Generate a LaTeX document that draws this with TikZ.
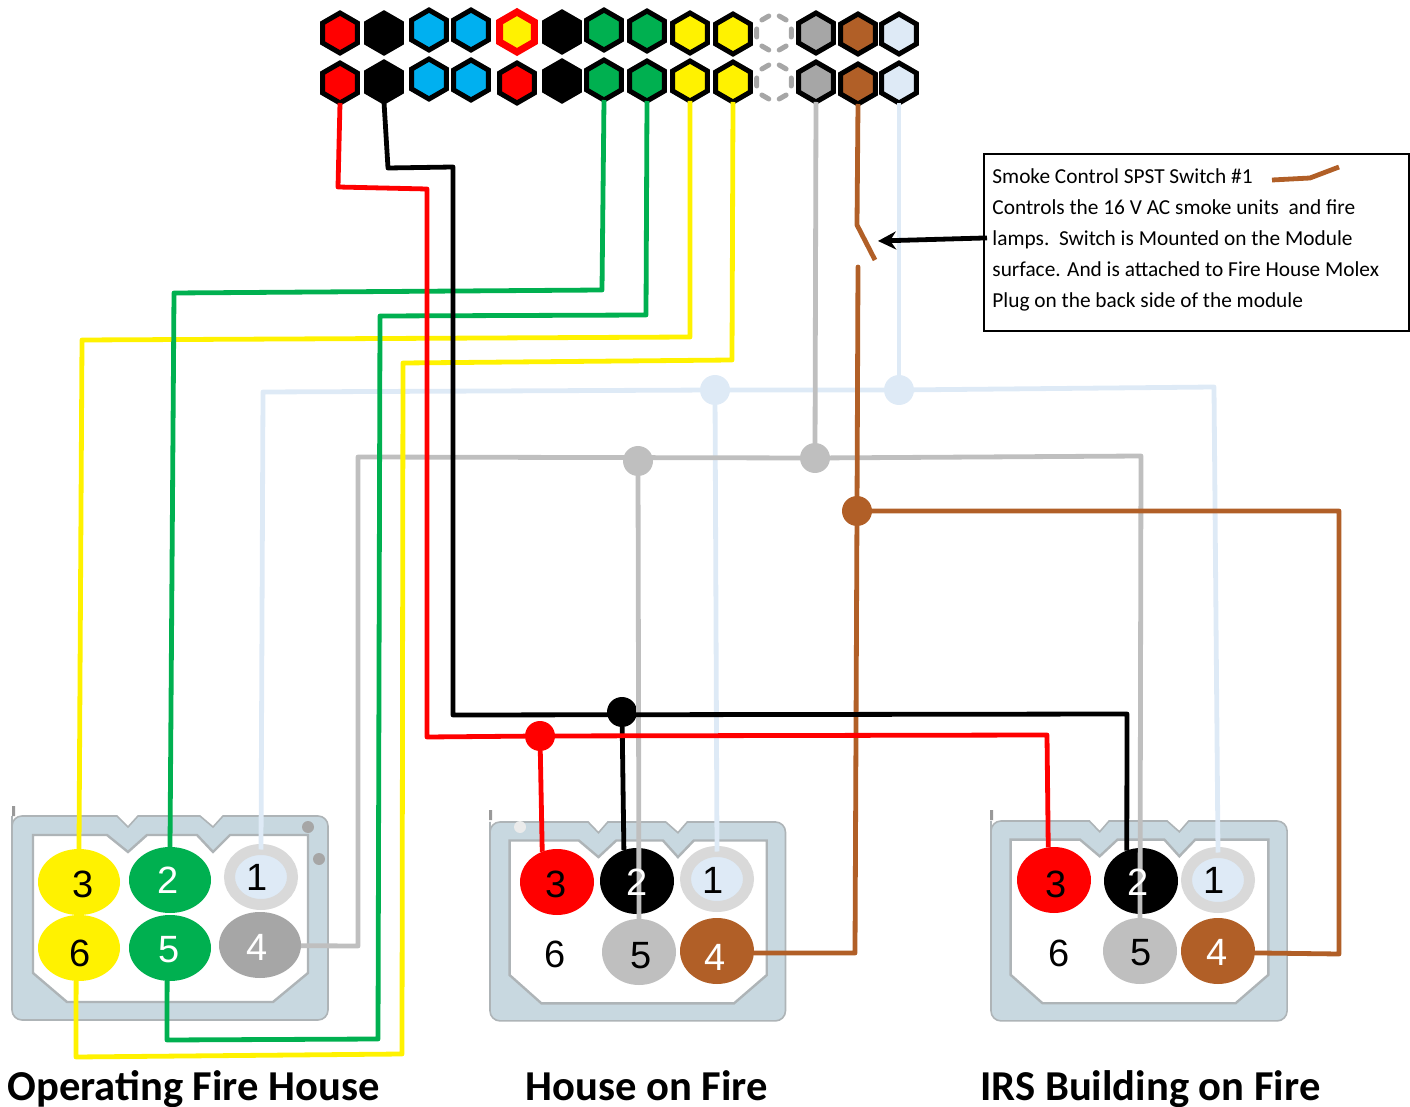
\documentclass[tikz,border=0pt]{standalone}
\usepackage{fontspec}
\setmainfont{Carlito}
\newfontfamily\pinfont{Liberation Sans}
\usetikzlibrary{arrows.meta, shapes.geometric}
\definecolor{wire-green}{HTML}{00B050}
\definecolor{wire-blue}{HTML}{00B0F0}
\definecolor{wire-brown}{HTML}{B15F27}
\definecolor{wire-gray}{HTML}{BFBFBF}
\definecolor{wire-pale}{HTML}{DEEAF6}
\definecolor{hex-gray}{HTML}{A6A6A6}
\definecolor{molex-fill}{HTML}{C8D8E0}
\definecolor{molex-edge}{HTML}{AEB4B7}
\tikzset{
    hex-box/.style={
        regular polygon,
        regular polygon sides=6,
        shape border rotate=30,
        draw=black,
        line width=2.5pt,
        minimum size=20pt,
        inner sep=0pt,
        outer sep=0pt,
    },
    hex-empty/.style={
        hex-box,
        draw=hex-gray,
        dash pattern=on 4pt off 6pt,
        dash phase=7pt,
        line cap=round,
    },
    pin/.style={
        ellipse,
        minimum width=37pt,
        minimum height=33pt,
        inner sep=0pt,
        outer sep=0pt,
    },
    pin-wide/.style={
        pin,
        minimum width=41pt,
    },
    pin-ring/.style={
        pin,
        draw=black!15,
        fill=wire-pale,
        line width=5.5pt,
        minimum width=31.5pt,
        minimum height=27.5pt,
    },
    pin-num/.style={
        font=\pinfont\fontsize{19}{19}\selectfont,
        inner sep=0pt,
    },
    junction/.style={
        circle,
        minimum size=15pt,
        inner sep=0pt,
        outer sep=0pt,
    },
    wire/.style={
        line width=2.4pt,
        line join=round,
    },
    title-text/.style={
        font=\bfseries\fontsize{21.3}{21.3}\selectfont,
        anchor=base west,
        inner sep=0pt,
    },
    molex/.pic={
        \draw[molex-edge, fill=molex-fill, line width=0.8pt]
            (0,10) [rounded corners=5pt] -- (0,0) -- (50,0) [sharp corners] -- (105,0) -- (116,11) -- (126,0) -- (188,0) -- (201,11) -- (211,0) -- (270,0) [rounded corners=5pt] -- (316,0) -- (316,204) -- (0,204) -- cycle;
        \draw[molex-edge, fill=white, line width=1.2pt]
            (21,19) -- (95,19) -- (116,36) -- (135,19) -- (185,19) -- (201,36) -- (218,19) -- (296,19) -- (296,157) -- (261,186) -- (55,186) -- (21,157) -- cycle;
    },
}
\begin{document}
\begin{tikzpicture}[x=0.5pt,y=-0.5pt]
\useasboundingbox (0,0) rectangle (1410,1107);

% top row of the plug
\node[hex-box, fill=red] (t1) at (340,33) {};
\node[hex-box, fill=black] (t2) at (384,33) {};
\node[hex-box, fill=wire-blue] (t3) at (429,30) {};
\node[hex-box, fill=wire-blue] (t4) at (471,30) {};
\node[hex-box, draw=red, fill=yellow, line width=3.5pt] (t5) at (517,32) {};
\node[hex-box, fill=black] (t6) at (562,32) {};
\node[hex-box, fill=wire-green] (t7) at (604,30) {};
\node[hex-box, fill=wire-green] (t8) at (647,31) {};
\node[hex-box, fill=yellow] (t9) at (690,33) {};
\node[hex-box, fill=yellow] (t10) at (733,34) {};
\node[hex-empty] (t11) at (774,33) {};
\node[hex-box, fill=hex-gray] (t12) at (816,33) {};
\node[hex-box, fill=wire-brown] (t13) at (858,34) {};
\node[hex-box, fill=wire-pale] (t14) at (899,34) {};
% bottom row of the plug
\node[hex-box, fill=red] (b1) at (340,83) {};
\node[hex-box, fill=black] (b2) at (384,82) {};
\node[hex-box, fill=wire-blue] (b3) at (429,79) {};
\node[hex-box, fill=wire-blue] (b4) at (471,80) {};
\node[hex-box, fill=red] (b5) at (517,83) {};
\node[hex-box, fill=black] (b6) at (562,81) {};
\node[hex-box, fill=wire-green] (b7) at (604,80) {};
\node[hex-box, fill=wire-green] (b8) at (647,81) {};
\node[hex-box, fill=yellow] (b9) at (690,81) {};
\node[hex-box, fill=yellow] (b10) at (733,82) {};
\node[hex-empty] (b11) at (774,82) {};
\node[hex-box, fill=hex-gray] (b12) at (816,82) {};
\node[hex-box, fill=wire-brown] (b13) at (858,84) {};
\node[hex-box, fill=wire-pale] (b14) at (899,83) {};

% molex housings
\pic at (12,816) {molex};
\pic[xscale=0.935, yscale=0.975] at (490,822) {molex};
\pic[xscale=0.937, yscale=0.98] at (991,821) {molex};
\fill[hex-gray] (308,827) circle (6) (319,859) circle (6);
\fill[black!8] (520,827) circle (6);
\fill[black!40] (12,806) rectangle (15,816) (489,810) rectangle (492,820) (990,810) rectangle (993,820);

% operating fire house pins
\node[pin-wide, fill=yellow] (o3) at (79,882) {};
\node[pin-wide, fill=wire-green] (o2) at (170,880) {};
\node[pin-ring] (o1) at (261,877) {};
\node[pin-wide, fill=yellow] (o6) at (79,948) {};
\node[pin-wide, fill=wire-green] (o5) at (170,948) {};
\node[pin-wide, fill=hex-gray] (o4) at (260,945) {};
% house on fire pins
\node[pin, fill=red] (h3) at (557,882) {};
\node[pin, fill=black] (h2) at (637,881) {};
\node[pin-ring] (h1) at (717,879) {};
\node[pin, fill=wire-gray] (h5) at (639,952) {};
\node[pin, fill=wire-brown] (h4) at (717,951) {};
% irs building pins
\node[pin, fill=red] (i3) at (1054,880) {};
\node[pin, fill=black] (i2) at (1141,881) {};
\node[pin-ring] (i1) at (1218,880) {};
\node[pin, fill=wire-gray] (i5) at (1140,951) {};
\node[pin, fill=wire-brown] (i4) at (1218,951) {};

% junctions
\node[junction, fill=wire-pale] (j-pale-a) at (715,390) {};
\node[junction, fill=wire-pale] (j-pale-b) at (899,390) {};
\node[junction, fill=wire-gray] (j-gray-a) at (638,461) {};
\node[junction, fill=wire-gray] (j-gray-b) at (815,458) {};
\node[junction, fill=wire-brown] (j-brown) at (857,511) {};
\node[junction, fill=black] (j-black) at (622,712) {};
\node[junction, fill=red] (j-red) at (540,736) {};

% pale wires
\draw[wire, wire-pale] (b14.south) -- (j-pale-b);
\draw[wire, wire-pale] (o1.north) -- (263,392) -- (j-pale-a) -- (j-pale-b) -- (1214,387) -- (i1.north);
\draw[wire, wire-pale] (j-pale-a) -- (h1.north);
% gray wires
\draw[wire, wire-gray] (b12.south) -- (j-gray-b);
\draw[wire, wire-gray] (o4.-1) -- (358,946) -- (358,457) -- (j-gray-b) -- (1141,456) -- (i5.north);
\draw[wire, wire-gray] (j-gray-a) -- (h5.north);
% brown wires and switch
\draw[wire, wire-brown] (b13.south) -- (857,225) -- (875,260);
\draw[wire, wire-brown, line cap=round] (858,267) -- (j-brown);
\draw[wire, wire-brown] (j-brown) -- (855,953) -- (h4.-3);
\draw[wire, wire-brown] (j-brown) -- (1339,511) -- (1339,954) -- (i4.-3);
% yellow wires
\draw[wire, yellow] (b9.south) -- (690,337) -- (82,340) -- (o3.north);
\draw[wire, yellow] (b10.south) -- (732,360) -- (403,363) -- (402,1054) -- (76,1057) -- (o6.265);
% green wires
\draw[wire, wire-green] (b7.south) -- (602,290) -- (174,293) -- (o2.north);
\draw[wire, wire-green] (b8.south) -- (646,315) -- (380,316) -- (378,1039) -- (167,1040) -- (o5.265);
% black wires
\draw[wire, black] (b2.south) -- (388,168) -- (453,167) -- (453,715) -- (1127,714) -- (i2.115);
\draw[wire, black] (j-black) -- (h2.113);
% red wires
\draw[wire, red] (b1.south) -- (338,187) -- (427,189) -- (427,737) -- (j-red) -- (1047,735) -- (i3.100);
\draw[wire, red] (j-red) -- (h3.116);

% pin numbers
\node[pin-num] (o3-num) at (83,884) {3};
\node[pin-num, white] (o2-num) at (168,880) {2};
\node[pin-num] (o1-num) at (257,877) {1};
\node[pin-num] (o6-num) at (80,953) {6};
\node[pin-num, white] (o5-num) at (169,950) {5};
\node[pin-num, white] (o4-num) at (257,947) {4};
\node[pin-num] (h3-num) at (556,884) {3};
\node[pin-num, white] (h2-num) at (637,882) {2};
\node[pin-num] (h1-num) at (713,880) {1};
\node[pin-num] (h6-num) at (555,954) {6};
\node[pin-num] (h5-num) at (641,956) {5};
\node[pin-num, white] (h4-num) at (715,957) {4};
\node[pin-num] (i3-num) at (1056,884) {3};
\node[pin-num, white] (i2-num) at (1138,882) {2};
\node[pin-num] (i1-num) at (1214,880) {1};
\node[pin-num] (i6-num) at (1059,953) {6};
\node[pin-num] (i5-num) at (1141,953) {5};
\node[pin-num, white] (i4-num) at (1217,952) {4};

% note box
\node[draw, line width=0.6pt, anchor=north west, minimum width=212.5pt, minimum height=88.5pt, inner sep=0pt, outer sep=0pt] (note) at (984,154) {};
\node[anchor=north west, align=left, inner sep=0pt, font=\fontsize{10.67}{15.5}\selectfont] (note-text) at (992,168)
    {Smoke Control SPST Switch \#1\\
     Controls the 16 V AC smoke units\ \ and fire\\
     lamps.\ \ Switch is Mounted on the Module\\
     surface. And is attached to Fire House Molex\\
     Plug on the back side of the module};
\draw[wire, wire-brown] (1272,180) -- (1310,178) -- (1339,167);
\coordinate (switch-tip) at (878,241);
\draw[line width=2.4pt, shorten <=-1.5pt, -{Stealth[length=9pt,width=9pt]}] (note.west |- 0,238) -- (switch-tip);

% titles
\node[title-text] (title-o) at (7,1100) {Operating Fire House};
\node[title-text] (title-h) at (525,1100) {House on Fire};
\node[title-text] (title-i) at (980,1100) {IRS Building on Fire};
\end{tikzpicture}
\end{document}
